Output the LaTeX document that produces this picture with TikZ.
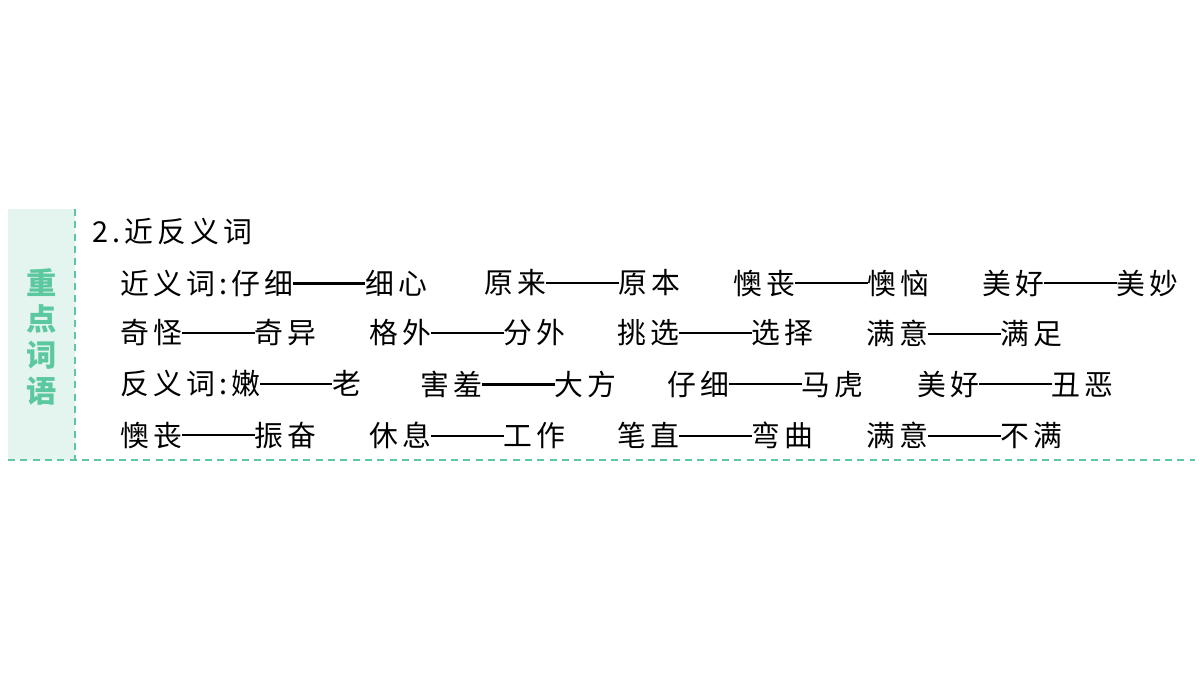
\documentclass[tikz,border=0pt]{standalone}
\usepackage{fontspec}
\newfontfamily\cjk[LetterSpace=14]{Noto Sans CJK SC}
\newfontfamily\cjkb{Noto Sans CJK SC}
\newcommand{\dd}{\rule[0.33em]{2.5em}{0.07em}}
\definecolor{sidebg}{HTML}{E3F5EE}
\definecolor{grn}{HTML}{5CC8A0}
\begin{document}
\begin{tikzpicture}[x=0.01cm,y=-0.01cm,
  txt/.style={anchor=west,inner sep=0pt,font=\cjk\fontsize{8.2}{9}\selectfont},
  sidetxt/.style={anchor=center,inner sep=0pt,align=center,text=grn,font=\cjkb\bfseries\fontsize{8.6}{10.3}\selectfont}]
\useasboundingbox (0,0) rectangle (1200,675);
\fill[sidebg] (8,209) rectangle (75,460);
\draw[grn,dash pattern=on 2pt off 1.5pt,thin] (75,209) -- (75,460);
\draw[grn,dash pattern=on 2pt off 1.5pt,thin] (8,460) -- (1195,460);
\node[sidetxt] (s) at (42,337) {重\\点\\词\\语};
\node[txt] (h) at (92,232) {2.近反义词};
\node[txt] (a1) at (120,283) {近义词:仔细\dd 细心};
\node[txt] (a2) at (484,283) {原来\dd 原本};
\node[txt] (a3) at (733,283) {懊丧\dd 懊恼};
\node[txt] (a4) at (982,283) {美好\dd 美妙};
\node[txt] (b1) at (120,333) {奇怪\dd 奇异};
\node[txt] (b2) at (369,333) {格外\dd 分外};
\node[txt] (b3) at (617,333) {挑选\dd 选择};
\node[txt] (b4) at (866,333) {满意\dd 满足};
\node[txt] (c1) at (120,384) {反义词:嫩\dd 老};
\node[txt] (c2) at (420,384) {害羞\dd 大方};
\node[txt] (c3) at (667,384) {仔细\dd 马虎};
\node[txt] (c4) at (917,384) {美好\dd 丑恶};
\node[txt] (d1) at (120,435) {懊丧\dd 振奋};
\node[txt] (d2) at (369,435) {休息\dd 工作};
\node[txt] (d3) at (617,435) {笔直\dd 弯曲};
\node[txt] (d4) at (866,435) {满意\dd 不满};
\end{tikzpicture}
\end{document}
